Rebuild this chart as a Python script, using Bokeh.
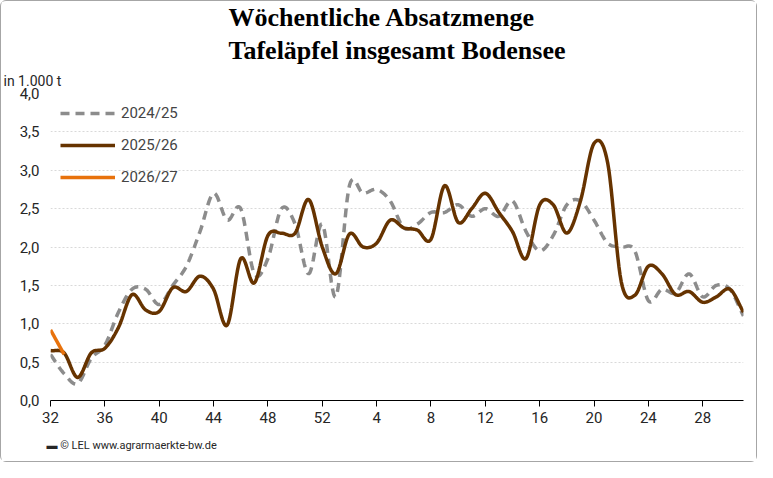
import numpy as np
from bokeh.plotting import figure
from bokeh.models import Legend, LegendItem, CustomJSTickFormatter, FixedTicker, Range1d, Title
from bokeh.embed import file_html
from bokeh.resources import INLINE

weeks = list(range(32, 53)) + list(range(1, 32))
tick_labels = ["32", "36", "40", "44", "48", "52", "4", "8", "12", "16", "20", "24", "28"]
s2425 = [0.6, 0.35, 0.22, 0.55, 0.72, 1.15, 1.45, 1.45, 1.25, 1.5, 1.75, 2.2, 2.7, 2.35, 2.5, 1.65,
         1.85, 2.5, 2.3, 1.65, 2.3, 1.35, 2.8, 2.7, 2.75, 2.6, 2.25, 2.3, 2.45, 2.45, 2.55, 2.4,
         2.5, 2.4, 2.6, 2.2, 1.95, 2.15, 2.55, 2.6, 2.35, 2.05, 2.0, 1.95, 1.3, 1.45, 1.4, 1.65,
         1.35, 1.5, 1.45, 1.1]
s2526 = [0.65, 0.62, 0.3, 0.62, 0.68, 0.95, 1.38, 1.18, 1.16, 1.47, 1.42, 1.62, 1.45, 0.98, 1.85, 1.53,
         2.15, 2.18, 2.18, 2.62, 2.0, 1.65, 2.17, 2.0, 2.05, 2.35, 2.25, 2.22, 2.1, 2.8, 2.32, 2.5,
         2.7, 2.45, 2.2, 1.85, 2.55, 2.55, 2.18, 2.6, 3.35, 3.1, 1.55, 1.37, 1.75, 1.65, 1.38, 1.42,
         1.28, 1.35, 1.45, 1.15]
s2627 = [0.92, 0.6]

def smooth(vals, n=12):
    y = np.asarray(vals, float)
    x = np.arange(len(y), dtype=float)
    if len(y) < 3:
        return x, y
    p = np.concatenate([[2*y[0]-y[1]], y, [2*y[-1]-y[-2]]])
    xs, ys = [], []
    for i in range(len(y)-1):
        p0, p1, p2, p3 = p[i], p[i+1], p[i+2], p[i+3]
        t = np.linspace(0, 1, n, endpoint=False)
        ys.extend(0.5*((2*p1) + (-p0+p2)*t + (2*p0-5*p1+4*p2-p3)*t**2 + (-p0+3*p1-3*p2+p3)*t**3))
        xs.extend(i + t)
    xs.append(x[-1]); ys.append(y[-1])
    return np.array(xs), np.array(ys)

p = figure(width=757, height=462, output_backend="svg", toolbar_location=None,
           x_range=Range1d(0, 51), y_range=Range1d(0, 4.0),
           min_border_left=49, min_border_right=15, min_border_top=2, min_border_bottom=0)
p.styles = {"border": "1px solid #a6a6a6", "border-radius": "6px"}
p.outline_line_color = None
p.xgrid.grid_line_color = None
p.ygrid.grid_line_color = "#d9d9d9"
p.ygrid.grid_line_dash = "2 2"
p.yaxis.ticker = FixedTicker(ticks=[0, 0.5, 1, 1.5, 2, 2.5, 3, 3.5, 4])
p.yaxis.formatter = CustomJSTickFormatter(code="return tick.toFixed(1).replace('.', ',');")
p.yaxis.axis_line_color = None
p.yaxis.major_tick_line_color = None
p.yaxis.minor_tick_line_color = None
xt = list(range(0, 52, 4))
p.xaxis.ticker = FixedTicker(ticks=xt)
p.xaxis.major_label_overrides = {t: l for t, l in zip(xt, tick_labels)}
p.xaxis.axis_line_color = "black"
p.xaxis.major_tick_line_color = "black"
p.xaxis.major_tick_in = 0
p.xaxis.major_tick_out = 6
p.xaxis.minor_tick_line_color = None
for ax in (p.xaxis, p.yaxis):
    ax.major_label_text_font = "Roboto"
    ax.major_label_text_font_size = "15px"
    ax.major_label_text_color = "#262626"

x1, y1 = smooth(s2425)
r1 = p.line(x1, y1, line_color="#8c8c8c", line_width=3.5, line_dash="9 6")
x2, y2 = smooth(s2526)
r2 = p.line(x2, y2, line_color="#663300", line_width=3.5)
r3 = p.line(list(range(len(s2627))), s2627, line_color="#e8720c", line_width=3.5)

leg = Legend(items=[LegendItem(label="2024/25", renderers=[r1]),
                    LegendItem(label="2025/26", renderers=[r2]),
                    LegendItem(label="2026/27", renderers=[r3])],
             location="top_left", glyph_width=55, spacing=12, border_line_color=None,
             background_fill_alpha=0, label_text_font="Roboto", label_text_font_size="15px",
             margin=10, padding=10, label_standoff=6)
p.add_layout(leg)

p.title = Title(text="Wöchentliche Absatzmenge\nTafeläpfel insgesamt Bodensee", align="center",
                text_font="Liberation Serif", text_font_style="bold", text_font_size="26px",
                text_color="black", text_line_height=1.15, offset=10, standoff=0)
p.add_layout(Title(text="in 1.000 t", align="left", offset=-47, text_font="Roboto",
                   text_font_size="14px", text_font_style="normal", text_color="#262626",
                   standoff=10), "above")
p.add_layout(Title(text="▬  © LEL www.agrarmaerkte-bw.de", align="left", offset=-4,
                   text_font="Roboto", text_font_size="11px", text_font_style="normal",
                   text_color="#262626", standoff=23), "below")

open("out.html", "w").write(file_html(p, INLINE))
